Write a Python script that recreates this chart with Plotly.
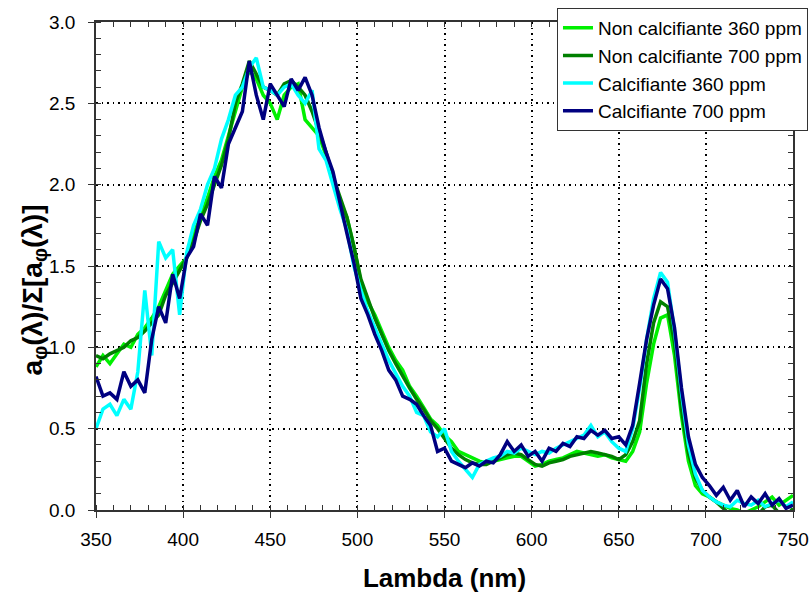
import plotly.graph_objects as go

# wavelength grid (nm), values every 4 nm
lam = list(range(350, 751, 4))

nc_360 = [0.88, 0.95, 0.90, 0.96, 1.02, 1.00, 1.08, 1.12, 1.18, 1.25,
          1.35, 1.45, 1.50, 1.55, 1.70, 1.80, 1.92, 2.05, 2.15, 2.30,
          2.45, 2.60, 2.70, 2.65, 2.55, 2.50, 2.40, 2.55, 2.60, 2.62,
          2.40, 2.35, 2.30, 2.18, 2.05, 1.90, 1.80, 1.62, 1.40, 1.28,
          1.20, 1.10, 1.00, 0.92, 0.86, 0.76, 0.70, 0.63, 0.56, 0.52,
          0.46, 0.42, 0.36, 0.34, 0.32, 0.30, 0.29, 0.30, 0.31, 0.32,
          0.33, 0.33, 0.30, 0.27, 0.28, 0.30, 0.31, 0.32, 0.34, 0.36,
          0.35, 0.34, 0.33, 0.34, 0.32, 0.31, 0.30, 0.36, 0.48, 0.78,
          1.02, 1.18, 1.20, 0.95, 0.58, 0.30, 0.15, 0.10, 0.08, 0.05,
          0.03, 0.01, 0.00, -0.02, 0.00, 0.02, 0.05, 0.08, 0.03, 0.06,
          0.09]

nc_700 = [0.95, 0.93, 0.96, 0.98, 1.00, 1.04, 1.06, 1.10, 1.15, 1.20,
          1.32, 1.40, 1.48, 1.55, 1.65, 1.78, 1.88, 2.00, 2.12, 2.28,
          2.50, 2.62, 2.76, 2.68, 2.60, 2.58, 2.55, 2.62, 2.64, 2.60,
          2.55, 2.45, 2.32, 2.20, 2.05, 1.92, 1.80, 1.62, 1.42, 1.30,
          1.18, 1.08, 0.98, 0.90, 0.82, 0.75, 0.68, 0.62, 0.55, 0.50,
          0.44, 0.38, 0.34, 0.31, 0.29, 0.28, 0.28, 0.30, 0.32, 0.34,
          0.35, 0.34, 0.31, 0.28, 0.27, 0.29, 0.30, 0.31, 0.33, 0.34,
          0.35, 0.36, 0.35, 0.34, 0.33, 0.31, 0.34, 0.42, 0.55, 0.90,
          1.15, 1.28, 1.25, 1.03, 0.62, 0.35, 0.20, 0.12, 0.08, 0.05,
          0.01, -0.03, -0.05, -0.06, -0.05, -0.03, 0.02, 0.03, -0.02, -0.04,
          0.01]

c_360 = [0.50, 0.62, 0.65, 0.58, 0.68, 0.62, 0.85, 1.35, 0.95, 1.65,
         1.55, 1.60, 1.20, 1.58, 1.75, 1.85, 2.00, 2.10, 2.28, 2.40,
         2.55, 2.60, 2.72, 2.78, 2.60, 2.58, 2.55, 2.60, 2.62, 2.55,
         2.50, 2.58, 2.22, 2.15, 2.00, 1.85, 1.72, 1.50, 1.35, 1.22,
         1.12, 1.02, 0.92, 0.84, 0.76, 0.70, 0.60, 0.58, 0.48, 0.45,
         0.50, 0.36, 0.30, 0.25, 0.20, 0.28, 0.30, 0.32, 0.33, 0.36,
         0.35, 0.38, 0.36, 0.34, 0.36, 0.35, 0.38, 0.40, 0.42, 0.44,
         0.46, 0.52, 0.45, 0.48, 0.42, 0.38, 0.36, 0.50, 0.75, 1.05,
         1.30, 1.46, 1.40, 1.10, 0.72, 0.40, 0.22, 0.12, 0.08, 0.05,
         0.03, 0.02, 0.06, 0.04, 0.03, 0.06, 0.02, 0.04, 0.06, 0.02,
         0.05]

c_700 = [0.82, 0.70, 0.72, 0.68, 0.85, 0.76, 0.80, 0.72, 1.05, 1.25,
         1.15, 1.45, 1.30, 1.55, 1.62, 1.82, 1.75, 2.05, 1.98, 2.25,
         2.35, 2.45, 2.76, 2.55, 2.40, 2.62, 2.55, 2.48, 2.65, 2.58,
         2.66, 2.55, 2.35, 2.20, 2.08, 1.88, 1.70, 1.52, 1.30, 1.20,
         1.08, 0.98, 0.86, 0.80, 0.70, 0.68, 0.65, 0.58, 0.52, 0.36,
         0.38, 0.30, 0.28, 0.26, 0.29, 0.27, 0.30, 0.29, 0.34, 0.42,
         0.36, 0.40, 0.33, 0.36, 0.30, 0.38, 0.36, 0.41, 0.39, 0.45,
         0.44, 0.49, 0.46, 0.49, 0.44, 0.45, 0.40, 0.52, 0.78, 1.05,
         1.26, 1.42, 1.36, 1.12, 0.75, 0.45, 0.28, 0.20, 0.15, 0.09,
         0.14, 0.06, 0.12, 0.02, 0.08, 0.04, 0.10, 0.03, 0.07, 0.01,
         0.03]

names = ["Non calcifiante 360 ppm", "Non calcifiante 700 ppm",
         "Calcifiante 360 ppm", "Calcifiante 700 ppm"]
colors = ["#00F000", "#008000", "#00FFFF", "#000080"]
series = [nc_360, nc_700, c_360, c_700]

font_main = "Arial, Liberation Sans, sans-serif"

fig = go.Figure()
for name, col, vals in zip(names, colors, series):
    fig.add_trace(go.Scatter(x=lam, y=vals, mode="lines", name=name,
                             line=dict(color=col, width=3.5)))

# invisible trace so the mirrored top/right axes get drawn
fig.add_trace(go.Scatter(x=[None], y=[None], xaxis="x2", yaxis="y2",
                         showlegend=False, hoverinfo="skip"))

axis_common = dict(showline=True, linecolor="#333", linewidth=1.5,
                   zeroline=False, tickcolor="#333", automargin=False,
                   tickfont=dict(size=19, family=font_main, color="black"))

fig.update_layout(
    width=810, height=599,
    margin=dict(l=96, r=17, t=22, b=89, autoexpand=False),
    plot_bgcolor="white", paper_bgcolor="white",
    font=dict(family=font_main, color="black"),
    xaxis=dict(range=[350, 750], dtick=50, ticks="outside", ticklen=6,
               ticklabelstandoff=5,
               showgrid=True, gridcolor="black", gridwidth=1.5,
               griddash="1.5px,4px",
               minor=dict(dtick=10, ticks="inside", ticklen=5,
                          tickcolor="#333", showgrid=False),
               title=dict(text="Lambda (nm)", standoff=20,
                          font=dict(size=26, family="Liberation Sans Narrow, Arial Narrow, Arial",
                                    weight="bold")),
               **axis_common),
    yaxis=dict(range=[0, 3], dtick=0.5, tickformat=".1f", ticks="outside",
               ticklen=6, ticklabelstandoff=9,
               showgrid=True, gridcolor="black", gridwidth=1.5,
               griddash="1.5px,4px",
               minor=dict(dtick=0.1, ticks="inside", ticklen=5,
                          tickcolor="#333", showgrid=False),
               **axis_common),
    xaxis2=dict(overlaying="x", side="top", range=[350, 750], dtick=10,
                ticks="inside", ticklen=5, showticklabels=False,
                showgrid=False, showline=True, linecolor="#333",
                linewidth=1.5, zeroline=False, tickcolor="#333"),
    yaxis2=dict(overlaying="y", side="right", range=[0, 3], dtick=0.1,
                ticks="inside", ticklen=5, showticklabels=False,
                showgrid=False, showline=True, linecolor="#333",
                linewidth=1.5, zeroline=False, tickcolor="#333"),
    legend=dict(x=1.0215, y=1.029, xanchor="right", yanchor="top",
                bgcolor="white", bordercolor="#333", borderwidth=1,
                font=dict(size=19, family=font_main, color="black"),
                tracegroupgap=0),
    showlegend=True,
)

# y title as a rotated annotation (sits a bit below the plot centre)
fig.add_annotation(text="a<sub>φ</sub>(λ)/Σ[a<sub>φ</sub>(λ)]",
                   xref="paper", yref="paper", x=0, y=0.45,
                   xanchor="center", yanchor="middle", xshift=-62,
                   textangle=-90, showarrow=False,
                   font=dict(size=28, family=font_main, weight="bold",
                             color="black"))

# drop the default 8px page margin so the 810x599 figure fills the window
fig.write_html("out.html", config={"displayModeBar": False},
               post_script="document.body.style.margin='0';"
                           "document.body.style.overflow='hidden';")
